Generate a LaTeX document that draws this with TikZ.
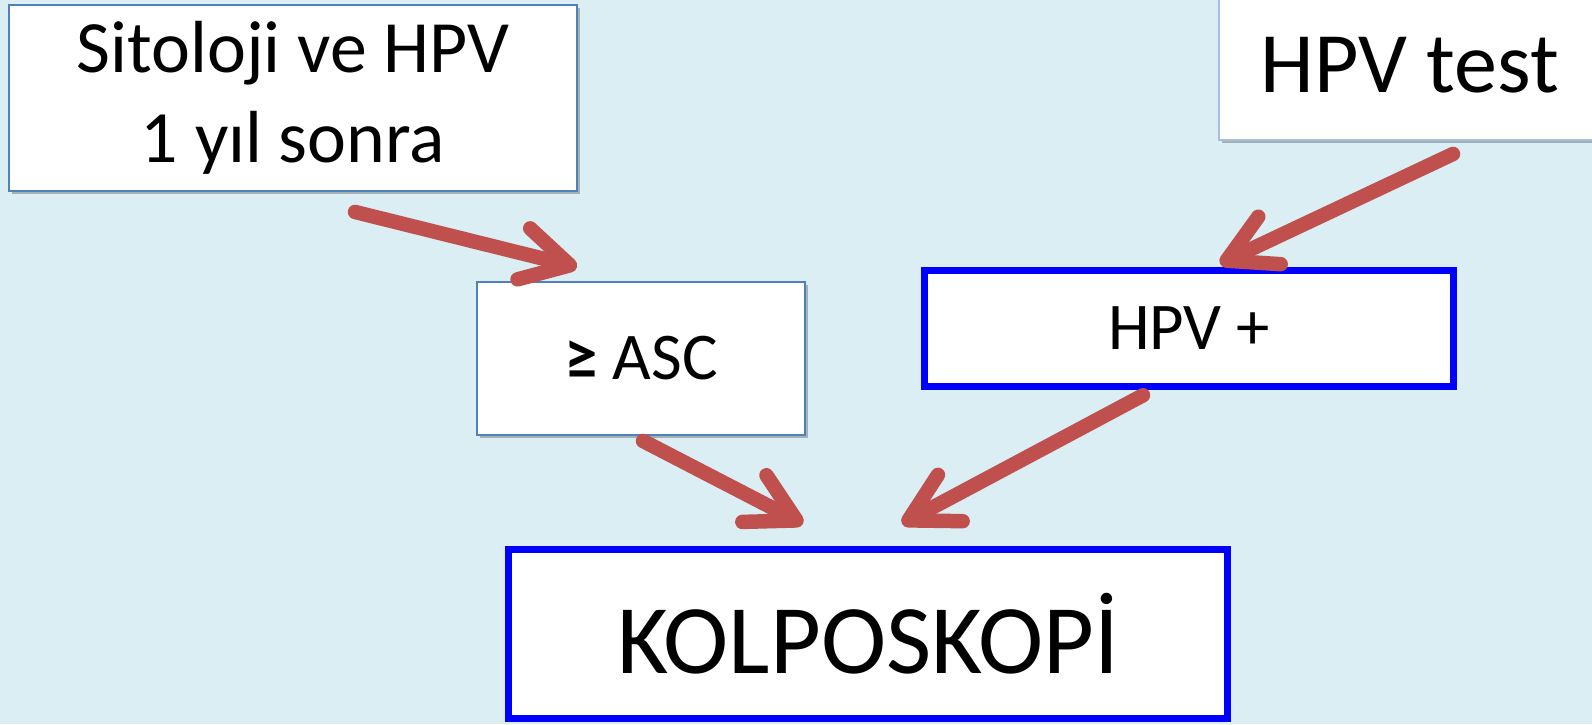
\documentclass[tikz,border=0pt]{standalone}
\usepackage{fontspec}
\setmainfont{Carlito}
\usetikzlibrary{arrows.meta}
\usetikzlibrary{calc}
\usetikzlibrary{shadows}
\usetikzlibrary{positioning}
\definecolor{slidebg}{HTML}{DBEEF4}
\definecolor{arrowred}{HTML}{C0504D}
\definecolor{thinblue}{HTML}{4F81BD}
\definecolor{paleblue}{HTML}{A7BFDE}

\begin{document}
\begin{tikzpicture}[x=0.02cm, y=-0.02cm,
				box/.style={draw, rectangle, fill=white, inner sep=0pt, align=center,
					drop shadow={shadow xshift=1.6pt, shadow yshift=-1.6pt, opacity=0.25, fill=black}},
				thinbox/.style={box, draw=thinblue, line width=1.1pt},
				palebox/.style={box, draw=paleblue, line width=1.1pt},
				bluebox/.style={box, draw=blue, line width=0.15cm},
				flow/.style={draw=arrowred, line width=0.29cm, line cap=round, line join=round,
					-{Straight Barb[length=0.95cm, width=1.05cm, round]},
					preaction={draw=black, opacity=0.22, transform canvas={shift={(1.6pt,-2.2pt)}}}}]
				\useasboundingbox (0,0) rectangle (1592,724);
				\clip (0,0) rectangle (1592,724);
				\fill[slidebg] (0,0) rectangle (1592,724);
				
				\node[thinbox, minimum width=11.36cm, minimum height=3.72cm, font=\fontsize{42}{51}\selectfont](sito) at (293, 98) {\raisebox{-3pt}{Sitoloji ve HPV}\\\raisebox{-3pt}{1 yıl sonra}};
				\node[palebox, minimum width=7.64cm, minimum height=3cm, font=\fontsize{49}{58}\selectfont](test) at (1410, 65) {HPV test};
				
				\node[thinbox, minimum width=6.56cm, minimum height=3.06cm, font=\fontsize{38}{45}\selectfont](asc) at (641, 358.5) {{\bfseries ≥} ASC};
				\node[bluebox, minimum width=10.58cm, minimum height=2.32cm, font=\fontsize{38}{45}\selectfont](pos) at (1189, 328.5) {\raisebox{-2pt}{HPV +}};
				
				\node[bluebox, minimum width=14.38cm, minimum height=3.38cm, font=\fontsize{56}{67}\selectfont](kolpo) at (868, 634) {\raisebox{-11pt}{KOLPOSKOPİ}};
				
				\draw[flow] ($(sito.south)+(62,20)$) -- ($(asc.north)+(-64,-14)$);
				\draw[flow] ($(test.south)+(43,13)$) -- ($(pos.north)+(31,-3)$);
				\draw[flow] ($(asc.south)+(2,5)$) -- ($(kolpo.north)+(-65,-22)$);
				\draw[flow] ($(pos.south)+(-46,5)$) -- ($(kolpo.north)+(34,-22)$);
			\end{tikzpicture}
\end{document}
